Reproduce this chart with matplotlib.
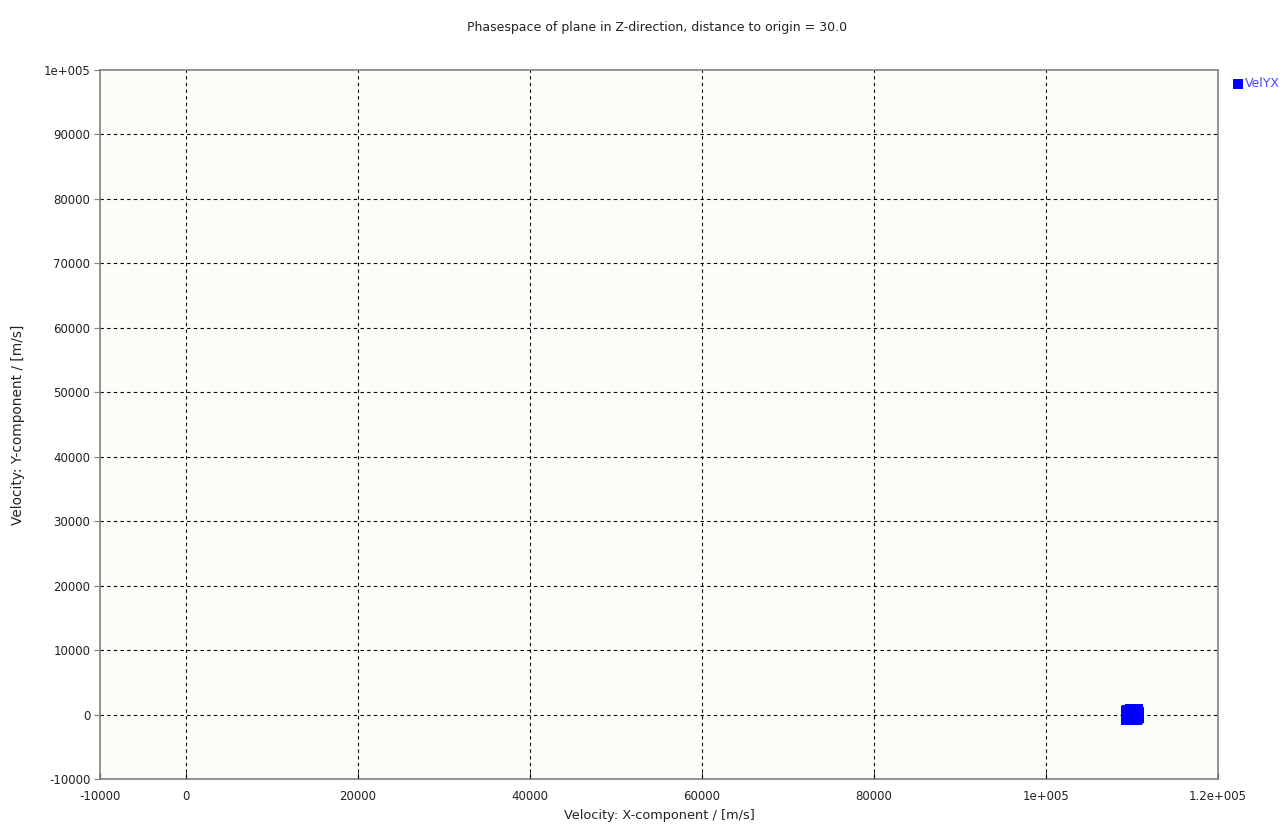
import matplotlib
matplotlib.use("Agg")
import matplotlib.pyplot as plt
from matplotlib.ticker import FixedLocator, FixedFormatter

# Particle velocities crossing the plane (m/s)
vel_x = [109600, 109800, 110000, 110200, 110400, 109700, 110100, 110300,
         109900, 110500, 109650, 110250]
vel_y = [-400, 300, -200, 100, 400, -100, 350, -300, 200, -50, 150, -350]

x_ticks = [-10000, 0, 20000, 40000, 60000, 80000, 100000, 120000]
x_labels = ["-10000", "0", "20000", "40000", "60000", "80000",
            "1e+005", "1.2e+005"]
y_ticks = [-10000, 0, 10000, 20000, 30000, 40000, 50000, 60000, 70000,
           80000, 90000, 100000]
y_labels = ["-10000", "0", "10000", "20000", "30000", "40000", "50000",
            "60000", "70000", "80000", "90000", "1e+005"]

plt.rcParams["font.family"] = ["DejaVu Sans"]
plt.rcParams["font.size"] = 8.5

fig = plt.figure(figsize=(12.84, 8.33), dpi=100)
fig.patch.set_facecolor("white")
ax = fig.add_axes([0.0779, 0.0648, 0.8707, 0.8512])
ax.set_facecolor("#fafcf7")

ax.scatter(vel_x, vel_y, marker="s", s=130, color="#0000ff",
           edgecolors="none", label="VelYX", zorder=3)

ax.set_xlim(-10000, 120000)
ax.set_ylim(-10000, 100000)
ax.xaxis.set_major_locator(FixedLocator(x_ticks))
ax.xaxis.set_major_formatter(FixedFormatter(x_labels))
ax.yaxis.set_major_locator(FixedLocator(y_ticks))
ax.yaxis.set_major_formatter(FixedFormatter(y_labels))

ax.grid(True, color="black", linestyle=(0, (3, 3)), linewidth=0.8)
# no dashed grid on top of the frame itself
for t, v in zip(ax.xaxis.get_major_ticks(), x_ticks):
    if v in ax.get_xlim():
        t.gridline.set_visible(False)
for t, v in zip(ax.yaxis.get_major_ticks(), y_ticks):
    if v in ax.get_ylim():
        t.gridline.set_visible(False)

for s in ax.spines.values():
    s.set_color("#808080")
    s.set_linewidth(1.2)
ax.tick_params(axis="x", direction="in", length=4, color="black",
               labelcolor="#222222", pad=8)
ax.tick_params(axis="y", direction="out", length=4, color="#808080",
               labelcolor="#222222", pad=3)

ax.set_xlabel("Velocity: X-component / [m/s]", fontsize=9.3, color="#222222",
              labelpad=4)
ax.set_ylabel("Velocity: Y-component / [m/s]", fontsize=9.8, color="#222222",
              labelpad=13)
fig.text(0.512, 0.967, "Phasespace of plane in Z-direction, distance to origin = 30.0",
         ha="center", va="center", fontsize=9, color="#222222")

leg = ax.legend(loc="upper left", bbox_to_anchor=(1.01, 0.997), frameon=False,
                handlelength=0.6, handletextpad=0.25, markerscale=0.62,
                borderaxespad=0.2, borderpad=0.2, fontsize=9)
for t in leg.get_texts():
    t.set_color("#4a4aff")

fig.savefig("out.png", dpi=100)
